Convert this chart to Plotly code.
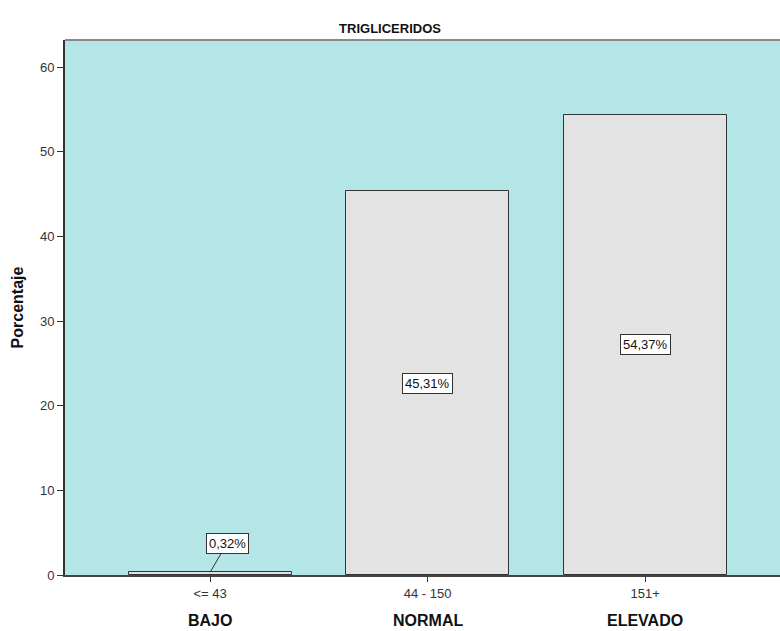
import plotly.graph_objects as go

# Triglyceride level distribution (percent of patients)
rangos = ["<= 43", "44 - 150", "151+"]
grupos = ["BAJO", "NORMAL", "ELEVADO"]
porcentajes = [0.32, 45.31, 54.37]
etiquetas = ["0,32%", "45,31%", "54,37%"]
y_ticks = [0, 10, 20, 30, 40, 50, 60]

FONT = "Liberation Sans, Arial, sans-serif"
BG = "#b4e6e7"
BAR = "#e3e3e3"

x_pos = list(range(len(rangos)))

fig = go.Figure()
fig.add_trace(go.Bar(
    x=x_pos,
    y=porcentajes,
    width=0.75,
    marker=dict(color=BAR, line=dict(color="#333333", width=1)),
    hoverinfo="skip",
))

# value labels: centred inside tall bars, offset with a leader line for tiny bars
for xi, val, txt in zip(x_pos, porcentajes, etiquetas):
    common = dict(
        text=txt, bgcolor="white", bordercolor="#333333", borderwidth=1, borderpad=2,
        font=dict(family=FONT, size=13, color="#111111"),
    )
    if val < 5:
        fig.add_annotation(
            x=xi, y=val, showarrow=True, arrowhead=0,
            arrowwidth=1, arrowcolor="#333333", ax=17, ay=-29, **common,
        )
    else:
        fig.add_annotation(x=xi, y=val / 2, showarrow=False, **common)

# group names under the range tick labels
for xi, g in zip(x_pos, grupos):
    fig.add_annotation(
        x=xi, y=0, xref="x", yref="paper", yanchor="middle", yshift=-45,
        text=f"<b>{g}</b>", showarrow=False,
        font=dict(family=FONT, size=16, color="#111111"),
    )

# thin grey frame line along the top of the plot area
fig.add_shape(type="line", xref="paper", yref="paper", x0=0, x1=1, y0=1, y1=1,
              line=dict(color="#8a8a8a", width=2))

fig.update_layout(
    width=780, height=631,
    margin=dict(l=65, r=0, t=40, b=56),
    paper_bgcolor="white",
    plot_bgcolor=BG,
    showlegend=False,
    bargap=0,
    title=dict(text="<b>TRIGLICERIDOS</b>", x=0.5, xanchor="center", y=1 - 28 / 631,
               yanchor="middle", font=dict(family=FONT, size=13, color="#111111")),
    font=dict(family=FONT, size=13, color="#333333"),
)

fig.update_xaxes(
    range=[-0.667, 2.62],
    tickmode="array", tickvals=x_pos, ticktext=rangos,
    ticks="outside", ticklen=5, tickcolor="#333333",
    showline=True, linecolor="#444444", linewidth=2,
    showgrid=False, zeroline=False,
    tickfont=dict(family=FONT, size=13, color="#333333"),
)
fig.update_yaxes(
    range=[0, 63.2],
    tickmode="array", tickvals=y_ticks,
    ticks="outside", ticklen=6, tickcolor="#333333",
    showline=True, linecolor="#333333", linewidth=2,
    showgrid=False, zeroline=False,
    title=dict(text="<b>Porcentaje</b>", font=dict(family=FONT, size=16, color="#111111"),
               standoff=12),
    tickfont=dict(family=FONT, size=13, color="#333333"),
)

fig.write_html("out.html")
